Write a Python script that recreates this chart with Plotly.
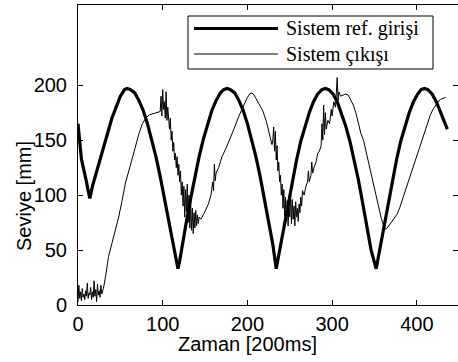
import plotly.graph_objects as go

# Reference input (thick line)
ref_x = [0, 2, 4, 6, 8, 10, 12, 14, 17, 20, 25, 30, 35, 40, 45, 50, 55, 58,
         62, 67, 72, 77, 82, 87, 92, 97, 102, 107, 112, 116, 118, 120,
         123, 128, 133, 138, 143, 148, 153, 158, 163, 168, 172, 176,
         180, 185, 190, 195, 200, 205, 210, 215, 220, 225, 230, 234,
         238, 243, 248, 253, 258, 263, 268, 273, 278, 283, 288, 292,
         296, 301, 306, 311, 316, 321, 326, 331, 336, 341, 346, 352,
         356, 361, 366, 371, 376, 381, 386, 391, 396, 401, 405, 409,
         413, 418, 423, 428, 433, 436]
ref_y = [165, 150, 133, 126, 120, 112, 104, 97, 108, 116, 130, 145, 156, 170, 180, 190, 196, 197,
         196, 193, 186, 177, 165, 151, 135, 117, 97, 76, 55, 38, 33, 40,
         55, 76, 97, 117, 135, 151, 165, 177, 186, 193, 196, 197,
         196, 193, 186, 177, 165, 151, 135, 117, 97, 76, 55, 33,
         50, 72, 93, 114, 132, 149, 163, 175, 185, 192, 196, 197,
         196, 192, 185, 175, 163, 149, 132, 114, 93, 72, 50, 33,
         50, 72, 93, 114, 132, 149, 163, 175, 185, 192, 196, 197,
         196, 192, 185, 175, 166, 160]

# System output (thin line)
out_x = list(range(0, 29)) + [
    30, 33, 36, 40, 44, 48, 52, 56, 60, 64, 68, 72, 76, 80, 84, 88, 92, 96,
    97, 98, 99, 100, 101, 102, 103, 104, 105, 106, 107, 108, 109, 110, 111, 112,
    113, 114, 115, 116, 117, 118, 119, 120,
    121, 122, 123, 124, 125, 126, 127, 128, 129, 130, 131, 132, 133, 134, 135, 136,
    137, 138, 139, 140, 141, 142, 143, 145, 148, 151, 154, 157, 159, 160, 161, 162,
    163, 166, 170, 175, 180, 185, 190, 195, 200, 204, 207, 210, 214, 218, 222, 226, 229,
    230, 231, 232, 233, 234, 235, 236, 237, 238, 239, 240, 241, 242, 243, 244, 245,
    246, 247, 248, 249, 250, 251, 252, 253, 254, 255, 256, 257, 258, 259, 260, 261,
    262, 263, 264, 265, 267, 269, 271, 272, 273, 275, 276, 277, 279, 281, 283, 285,
    287, 288, 289, 290, 291, 292, 293, 295, 297, 299, 300, 302, 304, 305, 306, 307,
    308, 310, 313, 316, 319, 322, 325, 328, 331, 334, 337, 340, 343, 346, 349, 352,
    355, 358, 360, 362, 365, 368, 371, 374, 377, 380, 383, 386, 389, 392, 395, 398,
    401, 404, 407, 410, 413, 416, 419, 422, 425, 428, 431, 434]
out_y = [3, 18, 6, 12, 4, 15, 7, 10, 5, 13, 8, 20, 6, 11, 9, 16, 5, 12, 7, 22, 8, 14, 3, 19, 9, 13, 7, 18, 10,
         15, 28, 44, 56, 68, 80, 95, 111, 122, 134, 146, 156, 165, 170, 173, 174, 175, 176,
         176, 190, 172, 196, 178, 185, 170, 194, 168, 180, 165, 160, 170, 150, 158, 140,
         148, 132, 138, 125, 135, 118, 128, 112,
         122, 100, 112, 90, 108, 80, 105, 85, 110, 75, 100, 70, 95, 68, 88, 65,
         84, 70, 86, 72, 82, 74, 80, 78, 82, 87, 92, 100, 112, 104, 128, 113,
         120, 125, 135, 143, 152, 162, 172, 181, 189, 193, 192, 188, 182, 177, 168, 156, 146,
         150, 162, 140, 158, 132, 145, 122, 130, 112, 118, 100, 110, 88, 105, 80, 98,
         76, 95, 72, 92, 80, 100, 74, 96, 78, 90, 72, 94, 80, 88, 76, 92,
         84, 98, 90, 104, 100, 108, 112, 122, 112, 118, 130, 120, 126, 130, 138, 140,
         145, 165, 150, 182, 155, 175, 160, 168, 165, 178, 172, 185, 180, 190, 207, 186,
         194, 190, 191, 192, 191, 187, 182, 175, 166, 156, 150, 140, 130, 120, 108, 97,
         87, 79, 74, 69, 70, 73, 76, 79, 83, 89, 96, 104, 111, 117, 124, 131,
         139, 147, 154, 161, 168, 173, 178, 182, 185, 187, 188, 189]

x_ticks = [0, 100, 200, 300, 400]
y_ticks = [0, 50, 100, 150, 200]
legend_labels = ["Sistem ref. girişi", "Sistem çıkışı"]

fig = go.Figure()
fig.add_trace(go.Scatter(x=ref_x, y=ref_y, mode="lines", name=legend_labels[0],
                         line=dict(color="black", width=3.2), showlegend=False))
fig.add_trace(go.Scatter(x=out_x, y=out_y, mode="lines", name=legend_labels[1],
                         line=dict(color="black", width=1), showlegend=False))

L, T, W, H = 78, 5, 380, 300


def px(xp):
    return (xp - L) / W


def py(yp):
    return (T + H - yp) / H


axis_common = dict(showline=True, linecolor="black", linewidth=1, mirror="ticks",
                   ticks="inside", ticklen=5, tickcolor="black", tickwidth=1,
                   showgrid=False, zeroline=False, automargin=False,
                   tickfont=dict(family="Liberation Sans, Arial", size=20, color="black"))

fig.update_layout(
    template="none",
    width=458, height=362,
    margin=dict(l=L, r=458 - L - W, t=T, b=362 - T - H, autoexpand=False),
    paper_bgcolor="white", plot_bgcolor="white",
    xaxis=dict(range=[0, 448.6], tickvals=x_ticks, ticklabelstandoff=1, **axis_common),
    yaxis=dict(range=[0, 273], tickvals=y_ticks, ticklabelstandoff=6, **axis_common),
    showlegend=False,
)

# legend box drawn manually
fig.add_shape(type="rect", xref="paper", yref="paper",
              x0=px(188), x1=px(433), y0=py(69), y1=py(16),
              line=dict(color="black", width=1), fillcolor="white", layer="above")
fig.add_shape(type="line", xref="paper", yref="paper",
              x0=px(194), x1=px(278), y0=py(28.5), y1=py(28.5),
              line=dict(color="black", width=3.2))
fig.add_shape(type="line", xref="paper", yref="paper",
              x0=px(194), x1=px(278), y0=py(54), y1=py(54),
              line=dict(color="black", width=1))
for lab, yy in zip(legend_labels, [28.5, 54]):
    fig.add_annotation(text=lab, xref="paper", yref="paper", x=px(284), y=py(yy),
                       xanchor="left", yanchor="middle", showarrow=False,
                       font=dict(family="Liberation Serif, Times New Roman", size=20, color="black"))

fig.add_annotation(text="Seviye [mm]", xref="paper", yref="paper", x=px(24), y=py(196),
                   xanchor="center", yanchor="middle", textangle=-90, showarrow=False,
                   font=dict(family="Liberation Sans, Arial", size=20, color="black"))
fig.add_annotation(text="Zaman [200ms]", xref="paper", yref="paper", x=px(247), y=py(344),
                   xanchor="center", yanchor="middle", showarrow=False,
                   font=dict(family="Liberation Sans, Arial", size=20, color="black"))

fig.write_html("out.html", config={"displayModeBar": False},
               post_script="document.body.style.margin='0';document.body.style.overflow='hidden';")
